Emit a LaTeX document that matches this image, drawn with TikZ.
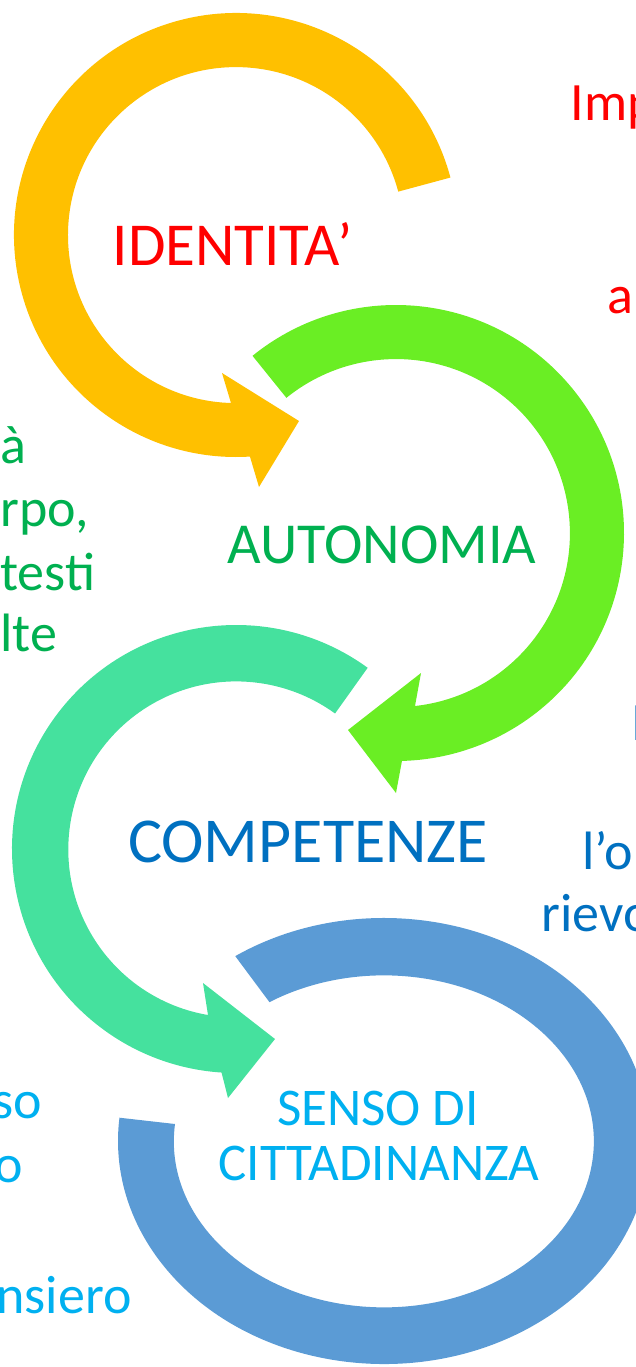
\documentclass[tikz,border=0pt]{standalone}
\usepackage{fontspec}
\setmainfont{Carlito}
\usepackage{tikz}
\usepackage{xcolor}
\definecolor{ringyellow}{HTML}{FFC000}
\definecolor{ringgreen}{HTML}{6AEE24}
\definecolor{ringteal}{HTML}{45E19E}
\definecolor{ringblue}{HTML}{5B9BD5}
\definecolor{txtgreen}{HTML}{00B050}
\definecolor{txtblue}{HTML}{0070C0}
\definecolor{txtsky}{HTML}{00B0F0}

\begin{document}
\begin{tikzpicture}[x=0.5pt,y=-0.5pt,
    lbl/.style={inner sep=0pt,anchor=base},
    side/.style={inner sep=0pt,anchor=base west,font=\fontsize{27}{32}\selectfont}]
    \useasboundingbox (0,0) rectangle (636,1367);
    \clip (0,0) rectangle (636,1367);

    % circular arrows
    \fill[ringyellow] (236,235) ++(-15:222) arc[start angle=-15, end angle=-273.6, radius=222]
        -- (259,487) -- (299,421) -- (222,373) -- (231,403)
        arc[start angle=-268.3, end angle=-15, radius=168] -- cycle;
    \fill[ringgreen] (396,533) ++(-129:228) arc[start angle=-129, end angle=88.5, radius=228]
        -- (396,793) -- (348,730) -- (421,673) -- (415,706)
        arc[start angle=83.7, end angle=-129, radius=174] -- cycle;
    \fill[ringteal] (236,849) ++(-54:224) arc[start angle=-54, end angle=-266.3, radius=224]
        -- (228,1098) -- (275,1039) -- (203,983) -- (208,1015)
        arc[start angle=-260.3, end angle=-54, radius=168] -- cycle;
    \fill[ringblue] (384,1141) ++(-124:266 and 223)
        arc[start angle=-124, end angle=186, x radius=266, y radius=223]
        -- (175,1124)
        arc[start angle=186, end angle=-123, x radius=210, y radius=166] -- cycle;

    % labels
    \node[lbl,text=red,font=\fontsize{30.5}{36}\selectfont] (identita) at (233,265) {IDENTITA’};
    \node[lbl,text=txtgreen,font=\fontsize{29}{35}\selectfont] (autonomia) at (382,563) {AUTONOMIA};
    \node[lbl,text=txtblue,font=\fontsize{32}{38}\selectfont] (competenze) at (308,862) {COMPETENZE};
    \node[lbl,text=txtsky,font=\fontsize{26.5}{31}\selectfont] (senso) at (378,1125) {SENSO DI};
    \node[lbl,text=txtsky,font=\fontsize{26.5}{31}\selectfont] (citta) at (379,1180) {CITTADINANZA};

    % side texts
    \node[side,text=red] (imp) at (570,120) {Imp};
    \node[side,text=red] (impa) at (607,313) {a};
    \foreach \t/\x/\y [count=\i] in {à/0/463, {rpo,}/0/526, testi/0/590, lte/0/651}
        \node[side,text=txtgreen] (sx\i) at (\x,\y) {\t};
    \foreach \t/\x/\y [count=\i] in {I/631/740, l’o/582/869, rievo/541/931}
        \node[side,text=txtblue] (dx\i) at (\x,\y) {\t};
    \foreach \t/\x/\y [count=\i] in {so/-8/1118, o/-6/1182, nsiero/-4/1313}
        \node[side,text=txtsky] (bx\i) at (\x,\y) {\t};
\end{tikzpicture}
\end{document}
